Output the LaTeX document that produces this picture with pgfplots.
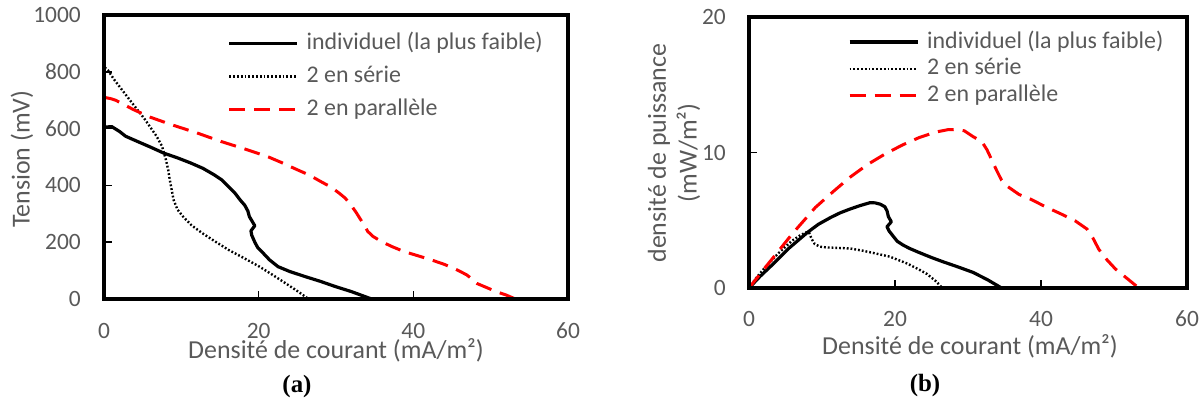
\documentclass[border=0pt]{standalone}
\usepackage{fontspec}
\setmainfont{Carlito}
\newfontfamily\capfont{Liberation Serif}
\usepackage{pgfplots}
\pgfplotsset{compat=1.18}
\definecolor{tickgray}{HTML}{595959}

\pgfplotstableread{
x y
0 605
1 607
2 590
2.8 573
4.3 555
6 535
7.7 514
9.5 497
11.2 479
12.8 460
14.2 438
15.2 420
16.1 396
16.9 374
17.6 349
18.2 330
18.6 310
18.8 290
19.5 258
19.0 240
19.1 225
19.5 200
19.9 180
20.6 161
21.4 138
22.5 114
24 97
26.0 79
28 62
29.9 44
32 26
34.4 2
34.6 0
}\VindT
\pgfplotstableread{
x y
0.1 815
0.5 806
1.3 773
3.3 702
5.3 632
6.8 573
7.5 538
8.0 491
8.3 455
8.5 420
9.0 349
9.5 315
10.2 291
11.3 260
12.7 232
14.4 202
16.1 173
18.1 144
20.1 114
21.8 85
23.5 55
25 28
26.2 5
26.4 0
}\VserT
\pgfplotstableread{
x y
0 710
0.8 706
1.5 700
3.8 667
6 640
8.7 614
12 585
15.1 555
18 530
21.1 502
23 480
25.0 455
26.5 437
28.0 414
29.3 395
30.4 373
31.2 355
31.9 332
32.6 305
33.2 279
33.7 258
34.1 238
34.8 220
35.9 202
37.2 185
38.8 167
40.5 153
42.3 138
44 122
45.7 102
46.9 85
47.6 70
48.2 55
49.5 40
50.7 26
52 14
53.2 0
}\VparT
\pgfplotstableread{
x y
0 0
1.5 0.85
3.3 1.77
5.5 2.95
8.0 4.10
9.5 4.70
11.2 5.21
12.5 5.55
13.8 5.82
15.2 6.08
16.6 6.3
17.3 6.28
18.0 6.18
18.6 6.0
18.9 5.7
19.1 5.26
19.5 4.89
18.9 4.52
19.2 4.2
19.8 3.79
20.3 3.45
21.1 3.17
22.0 2.92
23.3 2.62
25.0 2.25
26.5 1.95
28.5 1.58
30.7 1.15
32.7 0.6
34.6 0
}\PindT
\pgfplotstableread{
x y
0 0
1 0.75
2.2 1.52
4 2.55
5.9 3.49
7.0 3.88
7.8 4.1
8.2 4.12
8.6 3.6
9.0 3.25
9.7 3.05
10.5 3.0
12 2.96
13.8 2.92
15.6 2.75
17.5 2.53
19.3 2.31
21.7 1.8
23.4 1.33
24.4 1.03
25.6 0.5
26.4 0.05
26.5 0
}\PserT
\pgfplotstableread{
x y
0 0
2.5 1.7
4 2.7
5.9 3.98
9.1 5.95
11.5 7.1
13.8 8.16
16.2 9.1
18.6 9.88
21 10.55
23.3 11.1
25.5 11.5
27.2 11.68
28.5 11.7
29.5 11.6
30.7 11.17
31.9 10.8
32.6 10.2
33.3 9.4
33.9 8.7
34.6 7.95
35.4 7.5
37 6.9
38.6 6.55
40.6 6.0
42.8 5.45
44.7 4.95
46.3 4.35
47.1 3.7
47.9 2.87
49 2.1
50.2 1.40
51.8 0.7
53.4 0
}\PparT

\pgfplotsset{
  mystyle/.style={
    scale only axis, anchor=south west,
    axis line style={line width=4bp, black},
    axis on top, clip=false,
    xmin=0, xmax=60, xtick={0,20,40,60},
    tick align=inside, xtick pos=bottom, ytick pos=left,
    major tick length=8bp,
    every tick/.style={black, line width=1.5bp},
    tick label style={font=\fontsize{23.5}{28}\selectfont, text=tickgray},
    /pgf/number format/assume math mode=true,
    /pgf/number format/1000 sep={},
    yticklabel style={anchor=east, inner sep=0pt, xshift=-23bp},
    label style={font=\fontsize{26}{31}\selectfont, text=tickgray},
    legend image code/.code={\draw[##1] (0bp,0bp) -- (68bp,0bp);},
    legend cell align=left,
  },
  sind/.style={black, line width=3.2bp, line join=round},
  sser/.style={black, line width=2.4bp, dash pattern=on 1.8bp off 2bp},
  spar/.style={red, line width=3bp, dash pattern=on 16bp off 9bp, line join=round},
}

\begin{document}
\begin{tikzpicture}[x=1bp,y=1bp]
\useasboundingbox (0,0) rectangle (1204,402);

\begin{axis}[mystyle,
  at={(104bp,103bp)}, width=464bp, height=284bp,
  ymin=0, ymax=1000, ytick={0,200,400,600,800,1000},
  xticklabel style={anchor=center, yshift=-32bp},
  xlabel={Densité de courant (mA/m²)},
  xlabel style={at={(axis description cs:0.5,-0.1796)}, anchor=center},
  ylabel={Tension (mV)},
  ylabel style={at={(axis description cs:-0.1767,0.493)}, anchor=center, rotate=0},
  legend style={at={(rel axis cs:0.267,0.938)}, anchor=north west, draw=none, fill=none,
    inner sep=0pt, outer sep=0pt, font=\fontsize{24}{28}\selectfont, text=tickgray,
    row sep=11bp, column sep=7.5bp,
    nodes={inner sep=0pt, text height=17bp, text depth=5bp}},
]
\addplot[sind] table {\VindT};
\addlegendentry{individuel (la plus faible)}
\addplot[sser] table {\VserT};
\addlegendentry{2 en série}
\addplot[spar] table {\VparT};
\addlegendentry{2 en parallèle}
\end{axis}

\begin{axis}[mystyle,
  at={(749bp,114bp)}, width=438bp, height=271bp,
  ymin=0, ymax=20, ytick={0,10,20},
  xticklabel style={anchor=center, yshift=-30.5bp},
  xlabel={Densité de courant (mA/m²)},
  xlabel style={at={(axis description cs:0.5046,-0.214)}, anchor=center},
  ylabel={densité de puissance\\(mW/m²)},
  ylabel style={at={(axis description cs:-0.1712,0.498)}, anchor=center, align=center},
  legend style={at={(rel axis cs:0.226,0.948)}, anchor=north west, draw=none, fill=none,
    inner sep=0pt, outer sep=0pt, font=\fontsize{24}{28}\selectfont, text=tickgray,
    row sep=4.7bp, column sep=8bp,
    nodes={inner sep=0pt, text height=17bp, text depth=5bp}},
]
\addplot[sind] table {\PindT};
\addlegendentry{individuel (la plus faible)}
\addplot[sser] table {\PserT};
\addlegendentry{2 en série}
\addplot[spar] table {\PparT};
\addlegendentry{2 en parallèle}
\end{axis}

\node[font=\capfont\bfseries\fontsize{25}{30}\selectfont, anchor=center] at (297,15) {(a)};
\node[font=\capfont\bfseries\fontsize{25}{30}\selectfont, anchor=center] at (925,16) {(b)};
\end{tikzpicture}
\end{document}
